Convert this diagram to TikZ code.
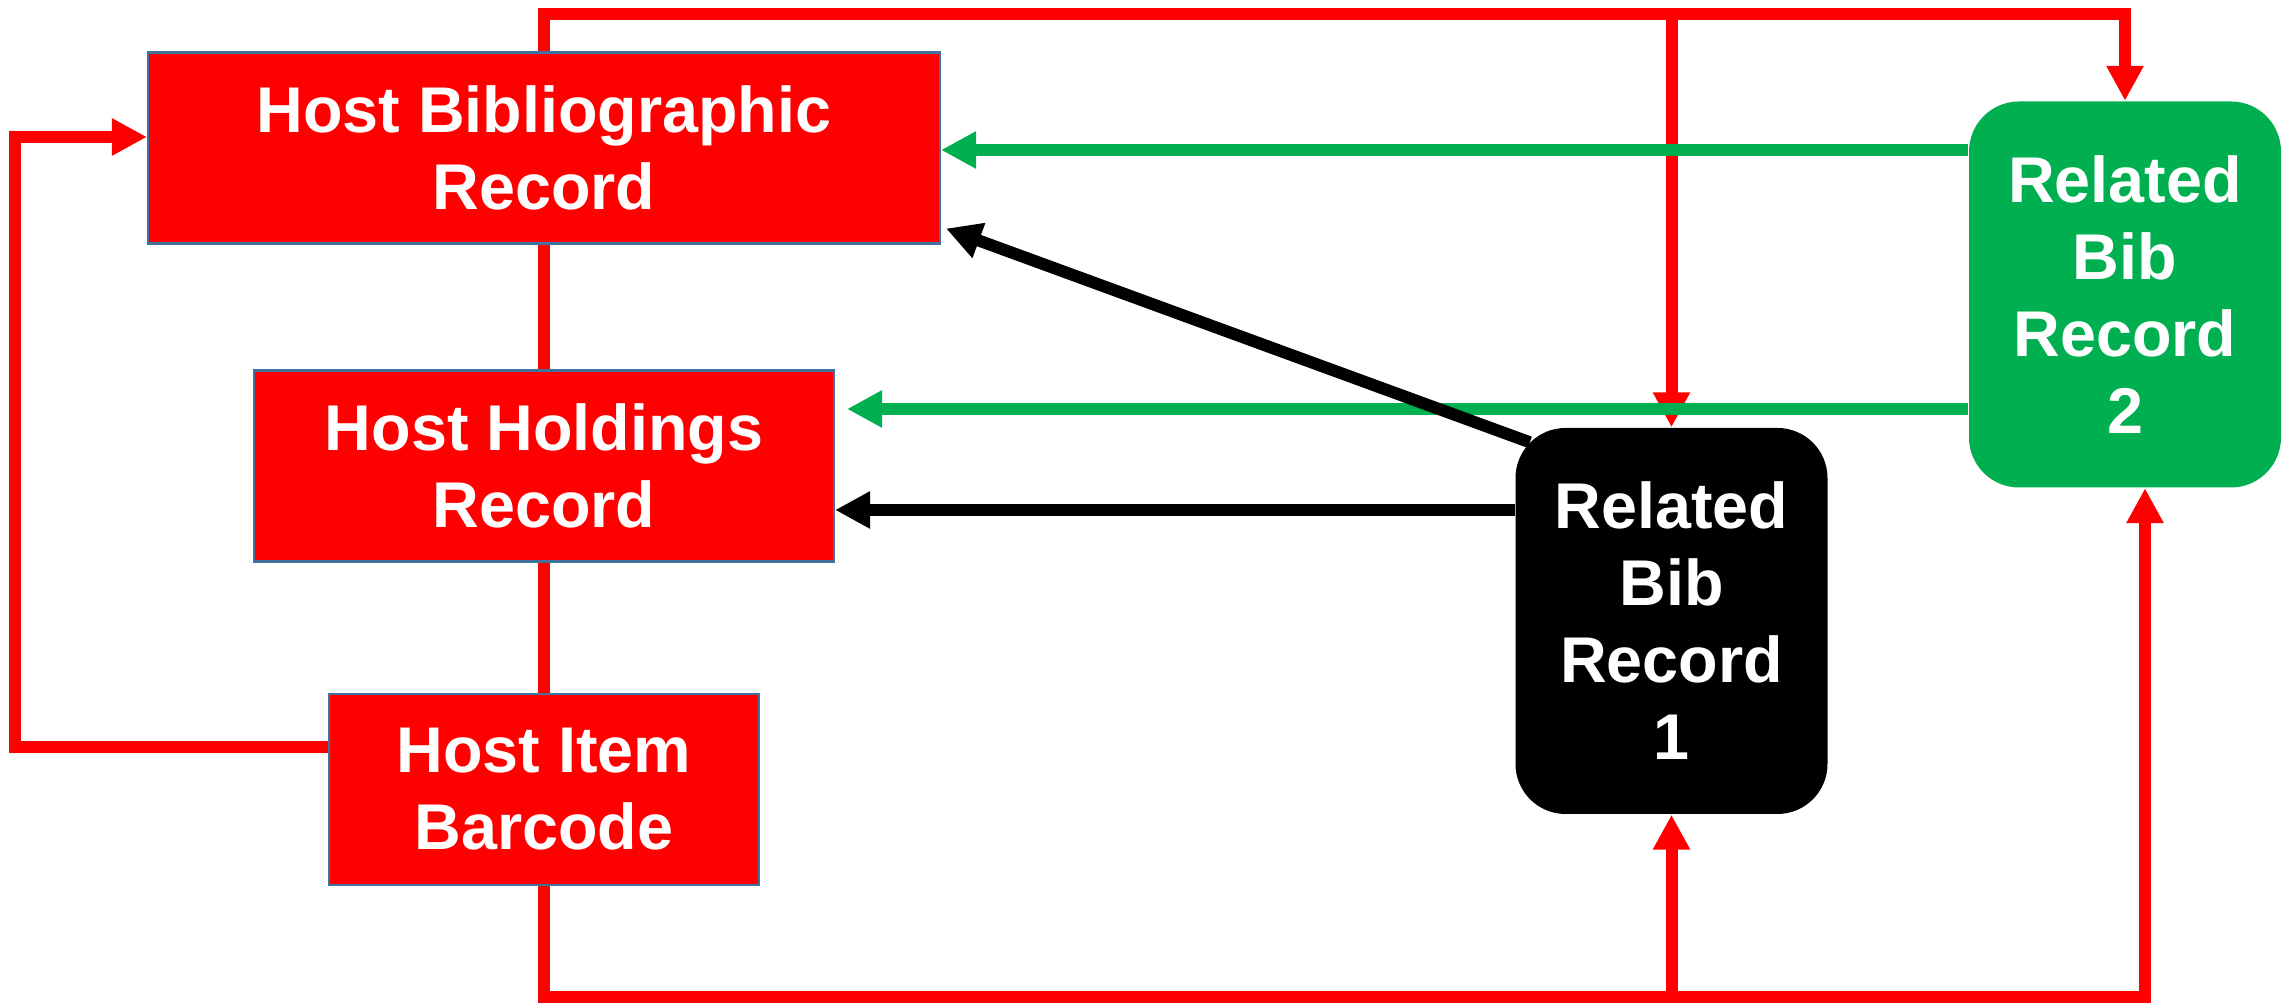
\documentclass[tikz,border=0pt]{standalone}
\usepackage{fontspec}
\setmainfont{Liberation Sans}
\usetikzlibrary{arrows.meta}
\definecolor{hostred}{RGB}{255,0,0}
\definecolor{relgreen}{RGB}{0,176,80}
\definecolor{edgeblue}{RGB}{65,113,156}
\newcommand{\boxfont}{\fontsize{18.4}{21.9}\selectfont\bfseries}

\begin{document}
\begin{tikzpicture}[
    hostbox/.style = {rectangle, fill=hostred, draw=edgeblue, line width=0.6pt,
                minimum width=#1, minimum height=1.91cm, inner sep=0pt,
                text=white, align=center, font=\boxfont},
    relbox/.style = {rectangle, rounded corners=0.5cm, fill=#1,
                minimum width=3.12cm, minimum height=3.86cm, inner sep=0pt,
                text=white, align=center, font=\boxfont},
    link/.style = {line width=0.12cm, #1},
    >={Triangle[length=0.35cm, width=0.35cm]}  % same head on every arrow
                    ]
        \useasboundingbox (0,0) rectangle (22.82,-10.03);
        \foreach \y/\w/\v/\t in {-1.48/7.92cm/hbib/{Host Bibliographic\\Record},
                                 -4.66/5.80cm/hhold/{Host Holdings\\Record},
                                 -7.895/4.30cm/hitem/{Host Item\\Barcode}}
            \node[hostbox=\w] at (5.44,\y) (\v) {\t};
        \node[relbox=black] at (16.715,-6.21) (rel1) {Related\\Bib\\Record\\1};
        \node[relbox=relgreen] at (21.25,-2.945) (rel2) {Related\\Bib\\Record\\2};
        % helper points
        \coordinate (top) at (0,-0.14);
        \coordinate (bot) at (0,-9.97);
        \coordinate (lft) at (0.15,0);
        \coordinate (itemout) at ([yshift=0.425cm]hitem.west);
        \coordinate (bibin) at ([yshift=0.11cm]hbib.west);
        \coordinate (rel2in) at ([xshift=0.2cm]rel2.south);
        \coordinate (g1) at ([yshift=1.445cm]rel2.west);
        \coordinate (g2) at ([yshift=-1.145cm]rel2.west);
        \coordinate (holdgap) at ([xshift=0.12cm]hhold.east);
        \coordinate (b1) at ([yshift=1.11cm]rel1.west);
        \draw [link=hostred,->] (hbib.north) -- (hbib.north |- top) -- (rel2.north |- top) -- (rel2.north);
        \draw [link=hostred,->] (rel1.north |- top) -- (rel1.north);
        \draw [link=hostred] (hbib.south) -- (hhold.north);
        \draw [link=hostred] (hhold.south) -- (hitem.north);
        \draw [link=hostred,->] (itemout) -- (itemout -| lft) -- (bibin -| lft) -- (bibin);
        \draw [link=hostred,->] (hitem.south) -- (hitem.south |- bot) -- (rel2in |- bot) -- (rel2in);
        \draw [link=hostred,->] (rel1.south |- bot) -- (rel1.south);
        \draw [link=relgreen,->] (g1) -- (g1 -| hbib.east);
        \draw [link=relgreen,->] (g2) -- (g2 -| holdgap);
        \draw [link=black,->] (b1) -- (b1 -| hhold.east);
        \draw [link=black,->] ([shift={(0.15,-0.15)}]rel1.north west) -- ([shift={(0.05,0.16)}]hbib.south east);
    \end{tikzpicture}
\end{document}
